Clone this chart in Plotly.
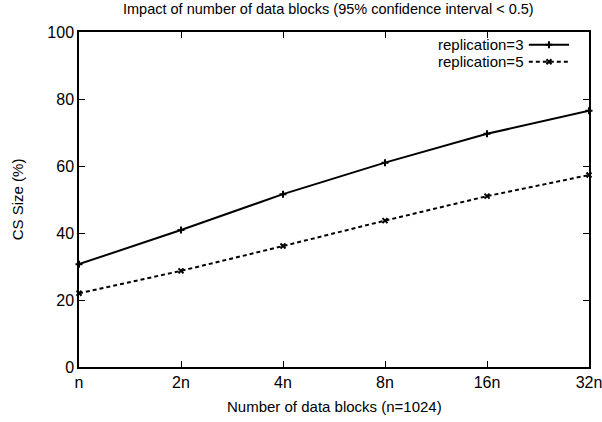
import plotly.graph_objects as go

# Number of data blocks, expressed as multiples of n (n = 1024)
blocks = ["n", "2n", "4n", "8n", "16n", "32n"]
# CS size (%) for each replication factor
cs_rep3 = [30.7, 40.9, 51.6, 61.0, 69.6, 76.5]
cs_rep5 = [22.0, 28.7, 36.1, 43.7, 51.0, 57.3]

y_ticks = [0, 20, 40, 60, 80, 100]

FONT = "Liberation Sans, Arial, sans-serif"
BLACK = "#000000"

fig = go.Figure()

fig.add_trace(go.Scatter(
    x=blocks, y=cs_rep3, mode="lines+markers", name="replication=3",
    line=dict(color=BLACK, width=2),
    marker=dict(symbol="cross-thin", size=5, line=dict(color=BLACK, width=2)),
    showlegend=False, cliponaxis=False,
))
fig.add_trace(go.Scatter(
    x=blocks, y=cs_rep5, mode="lines+markers", name="replication=5",
    line=dict(color=BLACK, width=2, dash="4px,3px"),
    marker=dict(symbol="x-thin", size=5, line=dict(color=BLACK, width=2)),
    showlegend=False, cliponaxis=False,
))

# Key in the upper right: label text followed by a line sample
key = [("replication=3", "solid", "cross-thin", 0.962),
       ("replication=5", "4px,3px", "x-thin", 0.911)]
for label, dash, sym, ky in key:
    fig.add_trace(go.Scatter(
        x=[0.882, 0.961], y=[ky, ky], xaxis="x2", yaxis="y2", mode="lines",
        line=dict(color=BLACK, width=2, dash=dash), showlegend=False,
        hoverinfo="skip",
    ))
    fig.add_trace(go.Scatter(
        x=[0.9215], y=[ky], xaxis="x2", yaxis="y2", mode="markers",
        marker=dict(symbol=sym, size=5, line=dict(color=BLACK, width=2)),
        showlegend=False, hoverinfo="skip",
    ))
    fig.add_annotation(
        x=0.872, y=ky, xref="x2", yref="y2", text=label, showarrow=False,
        xanchor="right", yanchor="middle", borderpad=0,
        font=dict(family=FONT, size=15, color=BLACK),
    )

# Axis titles and chart title placed in paper coordinates
fig.add_annotation(
    x=0.5, y=-0.118, xref="paper", yref="paper", yanchor="middle",
    text="Number of data blocks (n=1024)", showarrow=False,
    font=dict(family=FONT, size=15, color=BLACK),
)
fig.add_annotation(
    x=-0.12, y=0.5, xref="paper", yref="paper", xanchor="center",
    text="CS Size (%)", textangle=-90, showarrow=False,
    font=dict(family=FONT, size=15, color=BLACK),
)
fig.add_annotation(
    x=0.49, y=1.068, xref="paper", yref="paper", yanchor="middle",
    text="Impact of number of data blocks (95% confidence interval < 0.5)",
    showarrow=False, font=dict(family=FONT, size=14.5, color=BLACK),
)

axis_common = dict(
    showline=True, linecolor=BLACK, linewidth=1.5, mirror="ticks",
    ticks="inside", ticklen=6, tickwidth=1, tickcolor=BLACK,
    showgrid=False, zeroline=False, automargin=False,
    tickfont=dict(family=FONT, size=16, color=BLACK),
)

fig.update_layout(
    width=602, height=422,
    margin=dict(l=79, r=13, t=32, b=55, autoexpand=False),
    paper_bgcolor="white", plot_bgcolor="white",
    xaxis=dict(
        type="category", categoryorder="array", categoryarray=blocks,
        range=[0, len(blocks) - 1],
        **axis_common,
    ),
    yaxis=dict(
        range=[0, 100], tickvals=y_ticks,
        **axis_common,
    ),
    xaxis2=dict(domain=[0, 1], range=[0, 1], overlaying="x", visible=False,
                fixedrange=True),
    yaxis2=dict(domain=[0, 1], range=[0, 1], overlaying="y", visible=False,
                fixedrange=True),
    showlegend=False,
)

fig.write_html("out.html")
